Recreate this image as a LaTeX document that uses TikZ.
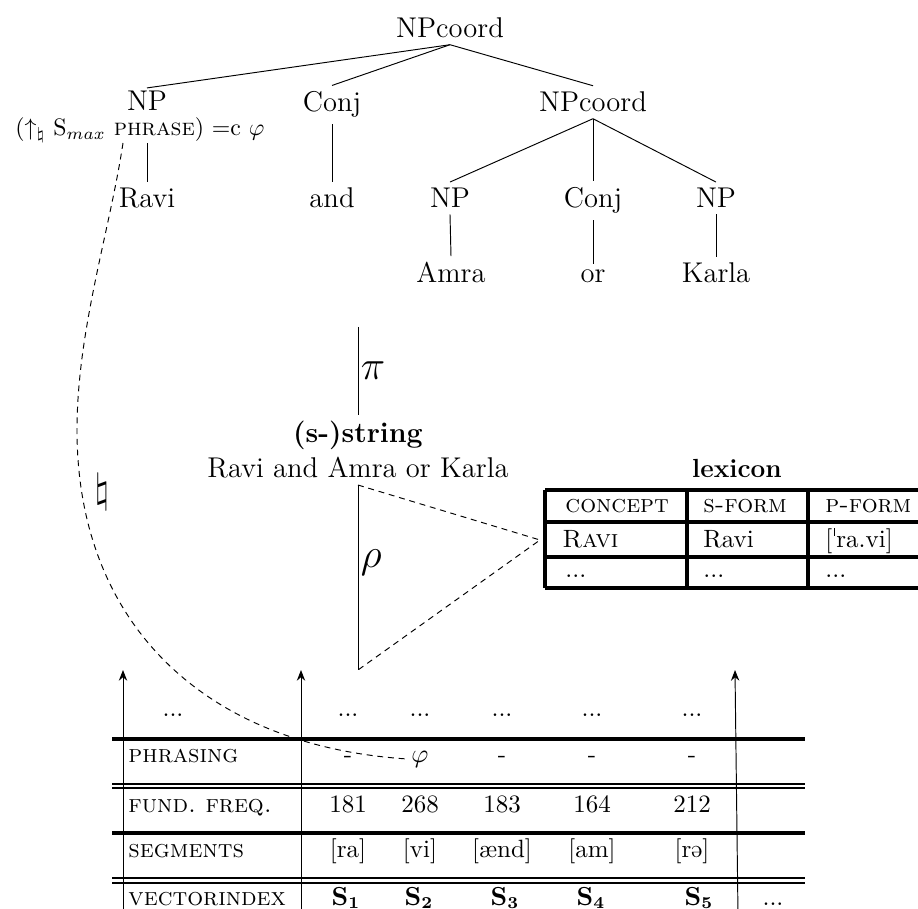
\documentclass[tikz,border=0pt]{standalone}
\usepackage{amsmath}
\usepackage{tikz}
\usetikzlibrary{arrows.meta,positioning}

\newcommand{\ipaschwa}{\rotatebox[origin=c]{180}{e}}
\newcommand{\ipastress}{\kern0.6pt\rule[1.05ex]{0.45pt}{0.7ex}\kern0.6pt}

\begin{document}
\begin{tikzpicture}[
    x=0.42pt, y=-0.42pt,
    cat/.style={anchor=base, inner sep=2.5pt, font=\fontsize{12}{14}\selectfont},
    ann/.style={anchor=base, inner sep=0pt, font=\fontsize{10}{12}\selectfont},
    big/.style={inner sep=1pt, font=\fontsize{16}{19}\selectfont},
    cell/.style={anchor=base, inner sep=0pt, font=\fontsize{10.5}{12}\selectfont},
    lcell/.style={cell, anchor=base west},
    rule/.style={line width=1.3pt},
    dbl/.style={line width=0.8pt},
    map/.style={dash pattern=on 2.5pt off 2pt},
    proj/.style={-{Stealth[length=4.5pt,width=3.5pt]}},
]
    \useasboundingbox (0,0) rectangle (918,909);
    \clip (0,0) rectangle (918,909);

    % c-structure
    \node[cat] (top) at (450,38) {NPcoord};
    \node[cat, inner sep=0pt, text height=2.2ex] (np1) at (147,111) {NP};
    \node[cat] (conj1) at (332,112) {Conj};
    \node[cat] (npc2) at (593,112) {NPcoord};
    \node[ann] (phr) at (140,136) {$(\uparrow_{\natural}$ S$_{max}$ \textsc{phrase}$)$ $=$c $\varphi$};
    \node[cat] (ravi) at (147,208) {Ravi};
    \node[cat] (and) at (332,208) {and};
    \node[cat] (np2) at (450,208) {NP};
    \node[cat] (conj2) at (593,208) {Conj};
    \node[cat] (np3) at (716,208) {NP};
    \node[cat] (amra) at (451,283) {Amra};
    \node[cat] (or) at (593,283) {or};
    \node[cat] (karla) at (716,283) {Karla};

    \draw (top.south) -- (np1.north);
    \draw (top.south) -- (conj1.north);
    \draw (top.south) -- (npc2.north);
    \draw (ravi.north |- phr.south) -- (ravi.north);
    \draw (conj1.south) -- (and.north);
    \draw (npc2.south) -- (np2.north);
    \draw (npc2.south) -- (conj2.north);
    \draw (npc2.south) -- (np3.north);
    \draw (np2.south) -- (amra.north);
    \draw (conj2.south) -- (or.north);
    \draw (np3.south) -- (karla.north);

    % string
    \coordinate (pitop) at (358,327);
    \node[cat] (str) at (358,443) {\textbf{(s-)string}};
    \node[cat] (sent) at (358,478) {Ravi and Amra or Karla};
    \draw (pitop) -- (str.north) node[midway, right, big] {$\pi$};

    \coordinate (rhobot) at (358,670);
    \coordinate (lexin) at (540,540);
    \draw (sent.south) -- (rhobot) node[pos=0.42, right, big] {$\rho$};
    \draw[map] (sent.south) -- (lexin) -- (rhobot);

    % lexicon
    \node[cat, font=\fontsize{11}{13}\selectfont] (lex) at (737,478) {\textbf{lexicon}};
    \foreach \y in {490,522,557,588}
        \draw[rule] (545,\y) -- (930,\y);
    \foreach \x in {545,687,808}
        \draw[rule] (\x,490) -- (\x,588);
    \node[lcell] (lc1) at (565,513) {\textsc{concept}};
    \node[lcell] (lc2) at (703,513) {\textsc{s-form}};
    \node[lcell] (lc3) at (825,513) {\textsc{p-form}};
    \node[lcell] (lr1) at (562,547) {\textsc{Ravi}};
    \node[lcell] (lr2) at (703,547) {Ravi};
    \node[lcell] (lr3) at (825,547) {[\ipastress ra.vi]};
    \node[lcell] (ld1) at (565,578) {...};
    \node[lcell] (ld2) at (703,578) {...};
    \node[lcell] (ld3) at (825,578) {...};

    \node[big] (nat) at (102,492) {$\natural$};

    % signal table
    \foreach \y in {739,833}
        \draw[rule] (112,\y) -- (805,\y);
    \foreach \y in {784,788,878,883}
        \draw[dbl] (112,\y) -- (805,\y);

    \coordinate (base1) at (123,915);
    \coordinate (tip1) at (123,670);
    \coordinate (base2) at (301,915);
    \coordinate (tip2) at (301,670);
    \coordinate (base3) at (738,915);
    \coordinate (tip3) at (735,670);
    \draw[proj] (base1) -- (tip1);
    \draw[proj] (base2) -- (tip2);
    \draw[proj] (base3) -- (tip3);

    \node[cell] (d0) at (173,717) {...};
    \foreach \x [count=\i] in {348,420,502,592,692}
        \node[cell] (d\i) at (\x,717) {...};

    \node[lcell] (lphr) at (128,762) {\textsc{phrasing}};
    \node[cell] (p1) at (348,762) {-};
    \node[cell, inner sep=2pt] (phi) at (420,762) {$\varphi$};
    \node[cell] (p3) at (502,762) {-};
    \node[cell] (p4) at (592,762) {-};
    \node[cell] (p5) at (692,762) {-};

    \node[lcell] (lf0) at (128,812) {\textsc{fund.\ freq.}};
    \foreach \x/\v [count=\i] in {348/181,420/268,502/183,592/164,692/212}
        \node[cell] (f\i) at (\x,812) {\v};

    \node[lcell] (lseg) at (128,857) {\textsc{segments}};
    \node[cell] (s1) at (348,857) {[ra]};
    \node[cell] (s2) at (420,857) {[vi]};
    \node[cell] (s3) at (502,857) {[ænd]};
    \node[cell] (s4) at (592,857) {[am]};
    \node[cell] (s5) at (692,857) {[r\ipaschwa]};

    \node[lcell] (lvec) at (128,905) {\textsc{vectorindex}};
    \foreach \x [count=\i] in {346,419,505,591,699}
        \node[cell] (v\i) at (\x,905) {$\mathbf{S_{\i}}$};
    \node[cell] (vend) at (773,905) {...};

    % Smax phrase link
    \coordinate (dstart) at (123,143);
    \draw[map] (dstart) .. controls (110,230) and (77,330) .. (77,430)
        .. controls (77,620) and (200,745) .. (phi.west);
\end{tikzpicture}
\end{document}
